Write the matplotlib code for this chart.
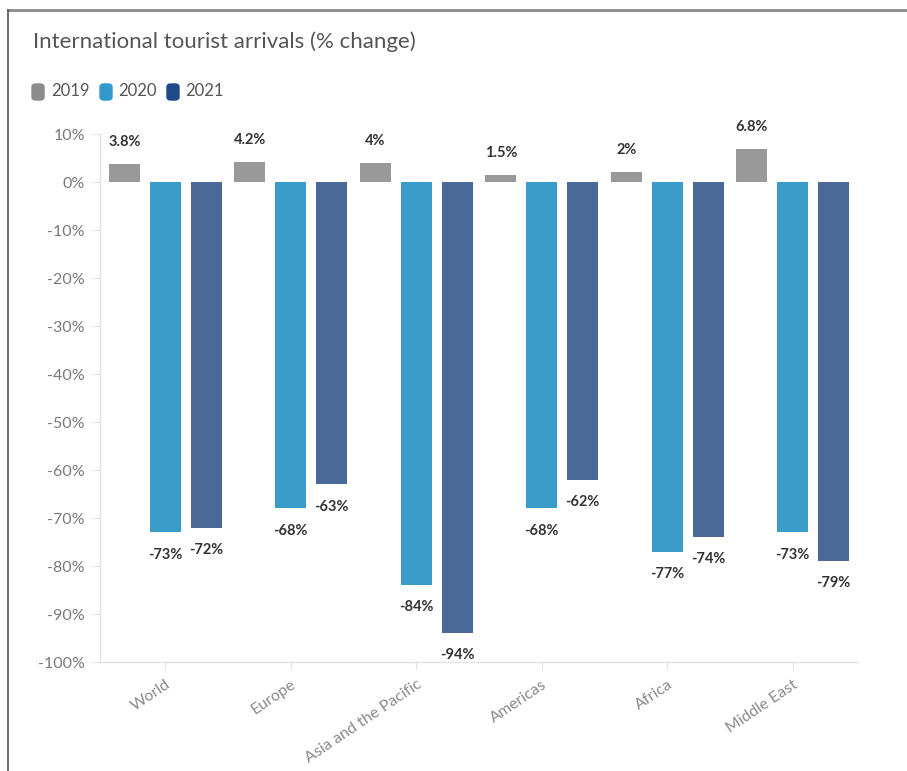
import numpy as np
import matplotlib
matplotlib.use('Agg')
import matplotlib.pyplot as plt
from matplotlib.patches import FancyBboxPatch
from matplotlib.lines import Line2D

regions = ['World', 'Europe', 'Asia and the Pacific', 'Americas', 'Africa', 'Middle East']
years = ['2019', '2020', '2021']
v2019 = [3.8, 4.2, 4.0, 1.5, 2.0, 6.8]
v2020 = [-73, -68, -84, -68, -77, -73]
v2021 = [-72, -63, -94, -62, -74, -79]
lab2019 = ['3.8%', '4.2%', '4%', '1.5%', '2%', '6.8%']

bar_cols = ['#999999', '#399cc9', '#4a6898']
leg_cols = ['#8c8c8c', '#3399cc', '#1f4a8a']

plt.rcParams['font.family'] = ['Lato', 'DejaVu Sans']

fig = plt.figure(figsize=(9.07, 7.71), dpi=100)
ax = fig.add_axes([100/907, 1-662/771, 758/907, 528/771])

x = np.arange(len(regions))
off = 0.325
w = 0.247
series = [v2019, v2020, v2021]
for i, vals in enumerate(series):
    ax.bar(x + (i-1)*off, vals, width=w, color=bar_cols[i], zorder=2)

# value labels
for j in range(len(regions)):
    ax.annotate(lab2019[j], (x[j]-off, v2019[j]), xytext=(0, 16), textcoords='offset points',
                ha='center', va='center', fontsize=10.5, fontweight='bold', color='#333333',
                annotation_clip=False)
    for i, vals in ((1, v2020), (2, v2021)):
        ax.annotate('%d%%' % vals[j], (x[j]+(i-1)*off, vals[j]), xytext=(0, -16),
                    textcoords='offset points', ha='center', va='center', fontsize=10.5,
                    fontweight='bold', color='#333333', annotation_clip=False)

ax.set_xlim(-0.52, 5.52)
ax.set_ylim(-100, 10)
ax.set_yticks(np.arange(-100, 11, 10))
ax.set_yticklabels(['%d%%' % t for t in np.arange(-100, 11, 10)])
ax.set_xticks(x)
ax.set_xticklabels(regions, rotation=34, ha='right', rotation_mode='anchor')

for s in ['top', 'right']:
    ax.spines[s].set_visible(False)
for s in ['left', 'bottom']:
    ax.spines[s].set_color('#e3e3e3')
    ax.spines[s].set_linewidth(1)
ax.tick_params(axis='y', colors='#e3e3e3', labelcolor='#7a7a7a', labelsize=11.5, length=7, pad=4)
ax.tick_params(axis='x', colors='#e3e3e3', labelcolor='#8a8a8a', labelsize=11.5, length=6, pad=5)

# title
fig.text(33/907, 1-42/771, 'International tourist arrivals (% change)', fontsize=16,
         color='#555555', va='center', ha='left')

# legend
sw_x = [32, 100, 167]
tx_x = [51, 118, 185]
for i in range(3):
    fig.patches.append(FancyBboxPatch((sw_x[i]/907, 1-100/771), 12/907, 16/771,
                                      boxstyle='round,pad=0,rounding_size=0.004',
                                      transform=fig.transFigure, color=leg_cols[i]))
    fig.text(tx_x[i]/907, 1-91/771, years[i], fontsize=12, color='#555555',
             va='center', ha='left')

# frame lines
fig.add_artist(Line2D([8/907, 1], [1-10/771, 1-10/771], color='#888888', lw=2,
                      transform=fig.transFigure))
fig.add_artist(Line2D([8/907, 8/907], [0, 1-10/771], color='#555555', lw=1.2,
                      transform=fig.transFigure))

fig.savefig('out.png', dpi=100)
